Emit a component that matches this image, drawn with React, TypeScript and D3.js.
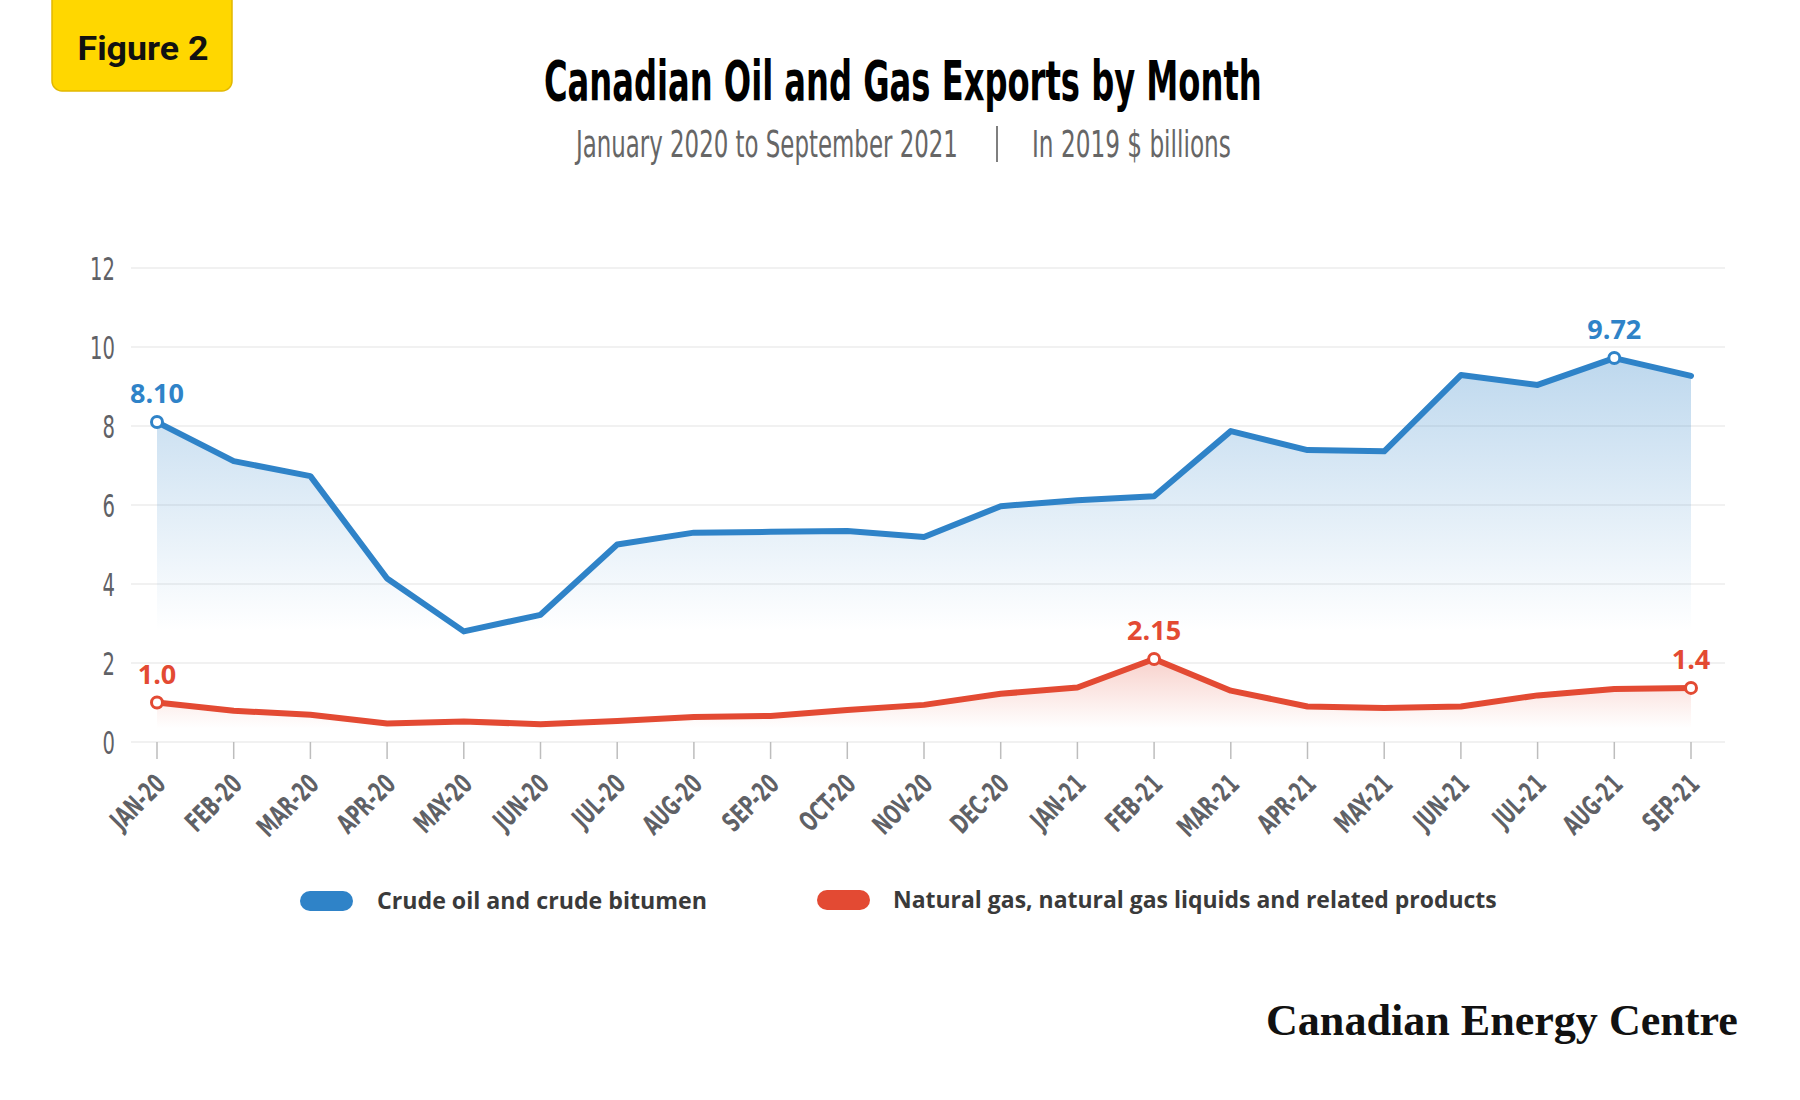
import { useLayoutEffect, useRef, useState } from 'react';
import * as d3 from 'd3';

const MONTHS = [
  'JAN-20', 'FEB-20', 'MAR-20', 'APR-20', 'MAY-20', 'JUN-20', 'JUL-20',
  'AUG-20', 'SEP-20', 'OCT-20', 'NOV-20', 'DEC-20', 'JAN-21', 'FEB-21',
  'MAR-21', 'APR-21', 'MAY-21', 'JUN-21', 'JUL-21', 'AUG-21', 'SEP-21',
];

// In 2019 $ billions
const CRUDE = [
  8.10, 7.11, 6.73, 4.14, 2.80, 3.22, 5.00, 5.30, 5.32, 5.34, 5.19,
  5.97, 6.12, 6.22, 7.87, 7.39, 7.36, 9.29, 9.04, 9.72, 9.27,
];
const GAS = [
  1.00, 0.79, 0.69, 0.47, 0.52, 0.45, 0.53, 0.63, 0.66, 0.81, 0.94,
  1.22, 1.38, 2.10, 1.30, 0.90, 0.86, 0.90, 1.18, 1.34, 1.37,
];

const Y_TICKS = [0, 2, 4, 6, 8, 10, 12];

const CRUDE_LABELS: [string, string][] = [['JAN-20', '8.10'], ['AUG-21', '9.72']];
const GAS_LABELS: [string, string][] = [['JAN-20', '1.0'], ['FEB-21', '2.15'], ['SEP-21', '1.4']];

const SERIES_NAMES = ['Crude oil and crude bitumen', 'Natural gas, natural gas liquids and related products'];

const BLUE = '#2f83c8';
const RED = '#e34a33';
const NARROW = "'Liberation Sans Narrow', 'DejaVu Sans Condensed', 'Arial Narrow', sans-serif";
const SANS = "'Open Sans', 'Noto Sans', sans-serif";

const W = 1800;
const H = 1100;

// text squeezed horizontally to a measured width (stand-in for the condensed brand faces)
function FitText({ x, y, width, children, ...rest }: any) {
  const ref = useRef<SVGTextElement>(null);
  const [sx, setSx] = useState(1);
  useLayoutEffect(() => {
    if (!ref.current) return;
    const w = ref.current.getComputedTextLength();
    if (w > 0) setSx(width / w);
  }, [width, children]);
  return (
    <text ref={ref} transform={`translate(${x},${y}) scale(${sx},1)`} {...rest}>{children}</text>
  );
}

export default function App() {
  const x = d3.scalePoint<string>().domain(MONTHS).range([157, 1691]);
  const y = d3.scaleLinear().domain([0, 12]).range([742, 268]);

  const line = d3.line<number>()
    .x((_, i) => x(MONTHS[i])!)
    .y(d => y(d));
  const area = d3.area<number>()
    .x((_, i) => x(MONTHS[i])!)
    .y0(y(0))
    .y1(d => y(d));

  const series = [
    { key: 'crude', values: CRUDE, color: BLUE, labels: CRUDE_LABELS, top: 9.8, bottom: 2.8, op: 0.32 },
    { key: 'gas', values: GAS, color: RED, labels: GAS_LABELS, top: 2.15, bottom: 0.35, op: 0.26 },
  ];

  return (
    <svg
      width={W}
      height={H}
      viewBox={`0 0 ${W} ${H}`}
      style={{ position: 'absolute', left: 0, top: 0, display: 'block', background: '#fff' }}
    >
      <defs>
        {series.map(s => (
          <linearGradient
            key={s.key}
            id={`grad-${s.key}`}
            gradientUnits="userSpaceOnUse"
            x1={0} x2={0} y1={y(s.top)} y2={y(s.bottom)}
          >
            <stop offset="0%" stopColor={s.color} stopOpacity={s.op} />
            <stop offset="100%" stopColor={s.color} stopOpacity={0} />
          </linearGradient>
        ))}
      </defs>

      {/* Figure tag */}
      <rect x={52} y={-20} width={180} height={111} rx={10} fill="#ffd700" stroke="#e2b800" strokeWidth={1.5} />
      <FitText x={143} y={60} width={131} textAnchor="middle" fontFamily="Roboto, sans-serif"
        fontWeight={700} fontSize={33} fill="#111">Figure 2</FitText>

      {/* Title + subtitle */}
      <FitText x={544} y={100} width={718} fontFamily={NARROW} fontWeight={700} fontSize={55} fill="#000">
        Canadian Oil and Gas Exports by Month
      </FitText>
      <FitText x={576} y={157} width={382} fontFamily={NARROW} fontSize={37} fill="#666">
        January 2020 to September 2021
      </FitText>
      <line x1={997} x2={997} y1={126} y2={162} stroke="#555" strokeWidth={1.5} />
      <FitText x={1032} y={157} width={199} fontFamily={NARROW} fontSize={37} fill="#666">
        In 2019 $ billions
      </FitText>

      {/* Grid + y labels */}
      {Y_TICKS.map(t => (
        <g key={t}>
          <line x1={131} x2={1725} y1={y(t)} y2={y(t)} stroke="#ececec" strokeWidth={1.5} />
          <text transform={`translate(115,${y(t)}) scale(0.68,1)`} dy="0.36em" textAnchor="end"
            fontFamily={NARROW} fontSize={32} fill="#5f6166">{t}</text>
        </g>
      ))}

      {/* x ticks + labels */}
      {MONTHS.map(m => (
        <g key={m}>
          <line x1={x(m)} x2={x(m)} y1={742} y2={759} stroke="#bdbdbd" strokeWidth={1.5} />
          <text
            transform={`translate(${x(m)! + 10},786) rotate(-45) scale(0.7,1)`}
            textAnchor="end"
            fontFamily={NARROW}
            fontWeight={700}
            fontSize={27}
            fill="#5f6166"
          >{m}</text>
        </g>
      ))}

      {/* Areas */}
      {series.map(s => (
        <path key={`a-${s.key}`} d={area(s.values)!} fill={`url(#grad-${s.key})`} />
      ))}

      {/* Lines */}
      {series.map(s => (
        <path key={`l-${s.key}`} d={line(s.values)!} fill="none" stroke={s.color}
          strokeWidth={6} strokeLinejoin="round" strokeLinecap="round" />
      ))}

      {/* Labelled points */}
      {series.map(s => s.labels.map(([m, label]) => {
        const i = MONTHS.indexOf(m);
        const cx = x(m)!;
        const cy = y(s.values[i]);
        return (
          <g key={`${s.key}-${m}`}>
            <circle cx={cx} cy={cy} r={5.5} fill="#fff" stroke={s.color} strokeWidth={3} />
            <text x={cx} y={cy - 19} textAnchor="middle" fontFamily={SANS} fontWeight={700}
              fontSize={27} fill={s.color}>{label}</text>
          </g>
        );
      }))}

      {/* Legend */}
      <rect x={300} y={891} width={53} height={20} rx={10} fill={BLUE} />
      <FitText x={377} y={909} width={330} fontFamily={SANS} fontWeight={700} fontSize={23} fill="#3a3a3a">
        {SERIES_NAMES[0]}
      </FitText>
      <rect x={817} y={890} width={53} height={20} rx={10} fill={RED} />
      <FitText x={893} y={908} width={604} fontFamily={SANS} fontWeight={700} fontSize={23} fill="#3a3a3a">
        {SERIES_NAMES[1]}
      </FitText>

      {/* Logo */}
      <FitText x={1266} y={1035} width={472} fontFamily="'Liberation Serif', 'DejaVu Serif', serif"
        fontWeight={700} fontSize={45} fill="#111">
        Canadian Energy Centre
      </FitText>
    </svg>
  );
}
